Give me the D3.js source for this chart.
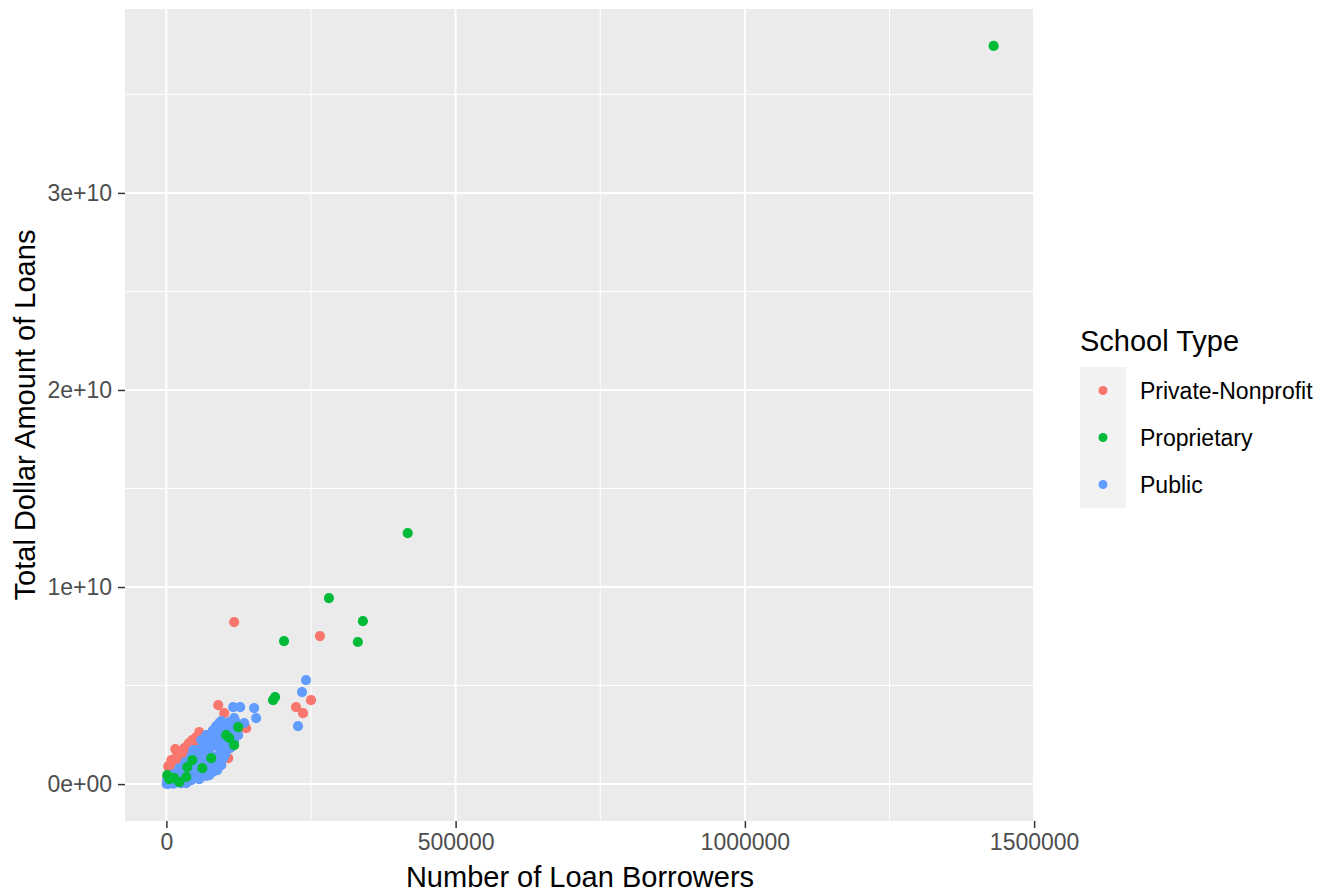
<!DOCTYPE html>
<html>
<head>
<meta charset="utf-8">
<script src="https://cdn.jsdelivr.net/npm/d3@7"></script>
<style>
  html, body { margin: 0; padding: 0; background: #ffffff; }
  svg { display: block; }
  text { font-family: "Liberation Sans", Arial, sans-serif; }
</style>
</head>
<body>
<svg id="chart" width="1323" height="892"></svg>
<script>
// ---- Data (x: number of loan borrowers, y: total dollar amount of loans) ----
const categories = ["Private-Nonprofit", "Proprietary", "Public"];
const colors = ["#F8766D", "#00BA38", "#619CFF"];

const privateNonprofit = [
  [1.7e3, 0.15e9], [1.7e3, 0.41e9], [5.2e3, 0.71e9], [3.4e3, 0.91e9], [8.6e3, 0.36e9],
  [10.3e3, 1.02e9], [15.5e3, 0.61e9], [17.2e3, 1.32e9], [22.4e3, 0.86e9], [24.1e3, 1.57e9],
  [29.3e3, 1.12e9], [31.0e3, 1.83e9], [36.2e3, 1.37e9], [37.9e3, 2.03e9], [43.1e3, 1.62e9],
  [44.8e3, 2.23e9], [50.0e3, 1.88e9], [51.7e3, 2.39e9], [56.9e3, 2.13e9], [58.6e3, 2.54e9],
  [65.5e3, 2.28e9], [15.5e3, 1.78e9], [56.9e3, 2.64e9], [89.6e3, 4.01e9], [100.0e3, 3.60e9],
  [125.9e3, 2.84e9], [137.9e3, 2.84e9], [106.9e3, 1.32e9], [60.3e3, 1.22e9], [117.2e3, 8.22e9],
  [265.5e3, 7.51e9], [250.0e3, 4.26e9], [224.1e3, 3.91e9], [236.2e3, 3.60e9], [12.1e3, 1.22e9],
  [19.0e3, 1.07e9], [25.9e3, 1.42e9], [6.9e3, 0.56e9], [32.8e3, 0.71e9], [39.7e3, 1.02e9],
  [48.3e3, 1.47e9], [69.0e3, 2.18e9], [34.5e3, 1.68e9], [22.4e3, 1.32e9],
  [3.4e3, 0.30e9], [8.6e3, 0.56e9], [13.8e3, 0.81e9], [20.7e3, 1.07e9], [27.6e3, 1.32e9],
  [34.5e3, 1.52e9], [41.4e3, 1.78e9], [48.3e3, 2.03e9], [55.2e3, 2.28e9], [62.1e3, 2.44e9],
  [8.6e3, 1.22e9], [19.0e3, 1.57e9], [39.7e3, 2.08e9]
];

const publicSchools = [
  [1.7e3, 0.25e9], [12.1e3, 0.51e9], [22.4e3, 0.81e9], [32.8e3, 1.12e9], [43.1e3, 1.42e9],
  [53.4e3, 1.73e9], [63.8e3, 2.03e9], [72.4e3, 2.34e9], [79.3e3, 2.64e9], [86.2e3, 2.94e9],
  [94.8e3, 3.20e9],
  [5.2e3, 0.05e9], [17.2e3, 0.25e9], [29.3e3, 0.51e9], [41.4e3, 0.81e9], [53.4e3, 1.12e9],
  [63.8e3, 1.37e9], [74.1e3, 1.68e9], [84.5e3, 1.98e9], [93.1e3, 2.28e9], [101.7e3, 2.59e9],
  [110.3e3, 2.89e9], [119.0e3, 3.20e9],
  [12.1e3, 0.02e9], [25.9e3, 0.05e9], [39.7e3, 0.25e9], [53.4e3, 0.46e9], [67.2e3, 0.66e9],
  [81.0e3, 0.91e9], [91.4e3, 1.22e9], [101.7e3, 1.52e9], [110.3e3, 1.83e9], [117.2e3, 2.13e9],
  [124.1e3, 2.49e9],
  [10.3e3, 0.25e9], [22.4e3, 0.51e9], [34.5e3, 0.81e9], [46.5e3, 1.12e9], [56.9e3, 1.42e9],
  [67.2e3, 1.73e9], [77.6e3, 2.03e9], [86.2e3, 2.34e9], [93.1e3, 2.64e9], [101.7e3, 2.89e9],
  [108.6e3, 3.15e9],
  [19.0e3, 0.10e9], [32.8e3, 0.30e9], [46.5e3, 0.56e9], [60.3e3, 0.81e9], [72.4e3, 1.07e9],
  [82.8e3, 1.37e9], [93.1e3, 1.68e9], [101.7e3, 1.98e9], [110.3e3, 2.28e9], [117.2e3, 2.59e9],
  [122.4e3, 2.89e9],
  [94.8e3, 0.96e9], [87.9e3, 0.71e9], [79.3e3, 0.61e9], [98.3e3, 1.32e9], [69.0e3, 0.41e9],
  [56.9e3, 0.25e9],
  [115.5e3, 3.91e9], [127.6e3, 3.91e9], [151.7e3, 3.86e9], [155.2e3, 3.35e9], [117.2e3, 3.35e9],
  [134.5e3, 3.10e9], [91.4e3, 3.10e9], [81.0e3, 2.74e9], [69.0e3, 2.49e9], [60.3e3, 2.23e9],
  [46.5e3, 1.73e9], [56.9e3, 0.71e9], [74.1e3, 0.46e9], [86.2e3, 0.71e9], [43.1e3, 0.20e9],
  [34.5e3, 0.05e9], [77.6e3, 1.22e9], [94.8e3, 1.73e9], [105.2e3, 2.13e9], [65.5e3, 0.96e9],
  [20.7e3, 0.15e9], [8.6e3, 0.15e9], [0.5e3, 0.01e9], [3.4e3, 0.01e9], [25.9e3, 0.41e9],
  [46.5e3, 0.71e9], [108.6e3, 2.39e9],
  [227.6e3, 2.94e9], [234.5e3, 4.67e9], [241.4e3, 5.28e9]
];

const proprietary = [
  [1430.0e3, 37.46e9], [417.2e3, 12.74e9], [281.0e3, 9.44e9], [339.7e3, 8.27e9], [331.0e3, 7.21e9],
  [203.4e3, 7.26e9], [187.9e3, 4.42e9], [184.5e3, 4.26e9], [124.1e3, 2.89e9], [103.4e3, 2.49e9],
  [108.6e3, 2.34e9], [117.2e3, 1.98e9], [77.6e3, 1.32e9], [62.1e3, 0.81e9], [44.8e3, 1.22e9],
  [36.2e3, 0.86e9], [1.7e3, 0.46e9], [13.8e3, 0.30e9], [22.4e3, 0.10e9], [34.5e3, 0.36e9],
  [5.2e3, 0.25e9]
];

const xTicks = [0, 500000, 1000000, 1500000];
const xTickLabels = ["0", "500000", "1000000", "1500000"];
const xMinor = [250000, 750000, 1250000];
const yTicks = [0, 1e10, 2e10, 3e10];
const yTickLabels = ["0e+00", "1e+10", "2e+10", "3e+10"];
const yMinor = [0.5e10, 1.5e10, 2.5e10, 3.5e10];

const xTitle = "Number of Loan Borrowers";
const yTitle = "Total Dollar Amount of Loans";
const legendTitle = "School Type";

// ---- Build combined table ----
const seriesList = [
  { name: "Private-Nonprofit", pts: privateNonprofit },
  { name: "Public", pts: publicSchools },
  { name: "Proprietary", pts: proprietary }
];
const points = [];
seriesList.forEach(s => s.pts.forEach(p => points.push({ type: s.name, x: p[0], y: p[1] })));

// ---- Layout ----
const panel = { left: 125, top: 9, right: 1035, bottom: 821 };
const svg = d3.select("#chart");
const color = d3.scaleOrdinal().domain(categories).range(colors);

function expand(ext) {
  const r = ext[1] - ext[0];
  return [ext[0] - 0.05 * r, ext[1] + 0.05 * r];
}
const xExt = d3.extent([0].concat(points.map(d => d.x)));
const yExt = d3.extent([0].concat(points.map(d => d.y)));
const x = d3.scaleLinear().domain(expand(xExt)).range([panel.left, panel.right]);
const y = d3.scaleLinear().domain(expand(yExt)).range([panel.bottom, panel.top]);

// Panel background
svg.append("rect")
  .attr("x", panel.left).attr("y", panel.top)
  .attr("width", panel.right - panel.left).attr("height", panel.bottom - panel.top)
  .attr("fill", "#EBEBEB");

const grid = svg.append("g");
grid.selectAll(".xminor").data(xMinor).enter().append("line")
  .attr("x1", d => x(d)).attr("x2", d => x(d))
  .attr("y1", panel.top).attr("y2", panel.bottom)
  .attr("stroke", "#ffffff").attr("stroke-width", 1);
grid.selectAll(".yminor").data(yMinor).enter().append("line")
  .attr("y1", d => y(d)).attr("y2", d => y(d))
  .attr("x1", panel.left).attr("x2", panel.right)
  .attr("stroke", "#ffffff").attr("stroke-width", 1);
grid.selectAll(".xmajor").data(xTicks).enter().append("line")
  .attr("x1", d => x(d)).attr("x2", d => x(d))
  .attr("y1", panel.top).attr("y2", panel.bottom)
  .attr("stroke", "#ffffff").attr("stroke-width", 2);
grid.selectAll(".ymajor").data(yTicks).enter().append("line")
  .attr("y1", d => y(d)).attr("y2", d => y(d))
  .attr("x1", panel.left).attr("x2", panel.right)
  .attr("stroke", "#ffffff").attr("stroke-width", 2);

// Points
svg.append("g").selectAll("circle").data(points).enter().append("circle")
  .attr("cx", d => x(d.x)).attr("cy", d => y(d.y))
  .attr("r", 5.1)
  .attr("fill", d => color(d.type));

// Axes
const xAxis = d3.axisBottom(x).tickValues(xTicks)
  .tickFormat((d, i) => xTickLabels[i]).tickSize(7).tickPadding(6);
const gx = svg.append("g").attr("transform", `translate(0,${panel.bottom})`).call(xAxis);
gx.select(".domain").remove();
gx.selectAll(".tick line").attr("stroke", "#333333").attr("stroke-width", 1.5);
gx.selectAll(".tick text").attr("fill", "#4D4D4D").attr("font-size", 23)
  .attr("font-family", "Liberation Sans, Arial, sans-serif");

const yAxis = d3.axisLeft(y).tickValues(yTicks)
  .tickFormat((d, i) => yTickLabels[i]).tickSize(7).tickPadding(6);
const gy = svg.append("g").attr("transform", `translate(${panel.left},0)`).call(yAxis);
gy.select(".domain").remove();
gy.selectAll(".tick line").attr("stroke", "#333333").attr("stroke-width", 1.5);
gy.selectAll(".tick text").attr("fill", "#4D4D4D").attr("font-size", 23)
  .attr("font-family", "Liberation Sans, Arial, sans-serif");

// Axis titles
svg.append("text")
  .attr("x", (panel.left + panel.right) / 2).attr("y", 887)
  .attr("text-anchor", "middle").attr("font-size", 29).attr("fill", "#000000")
  .text(xTitle);
svg.append("text")
  .attr("transform", `translate(35,${(panel.top + panel.bottom) / 2}) rotate(-90)`)
  .attr("text-anchor", "middle").attr("font-size", 29).attr("fill", "#000000")
  .text(yTitle);

// Legend
const legend = svg.append("g");
legend.append("text").attr("x", 1080).attr("y", 351)
  .attr("font-size", 29).attr("fill", "#000000").text(legendTitle);
const keyH = 47, keyTop = 367;
categories.forEach((c, i) => {
  legend.append("rect").attr("x", 1080).attr("y", keyTop + i * keyH)
    .attr("width", 46).attr("height", keyH).attr("fill", "#F2F2F2");
});
categories.forEach((c, i) => {
  const cy = keyTop + i * keyH + keyH / 2;
  legend.append("circle").attr("cx", 1103).attr("cy", cy).attr("r", 4.5).attr("fill", color(c));
  legend.append("text").attr("x", 1140).attr("y", cy).attr("dy", "0.35em")
    .attr("font-size", 23).attr("fill", "#000000").text(c);
});
</script>
</body>
</html>
